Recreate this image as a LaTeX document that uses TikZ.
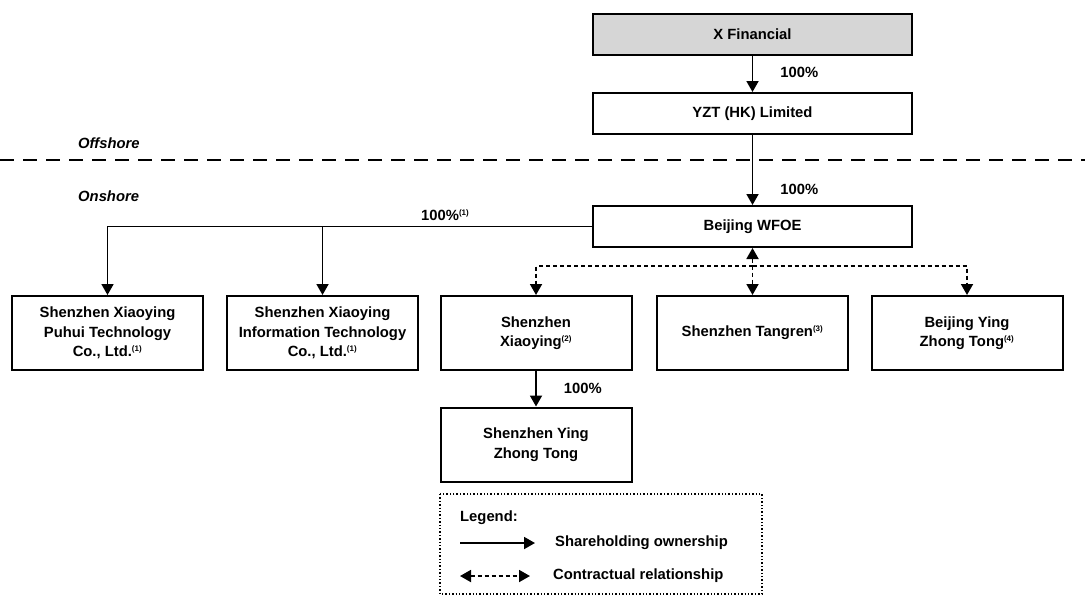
\documentclass[tikz,border=0pt]{standalone}
\usepackage{fontspec}
\setmainfont{Liberation Sans}
\usetikzlibrary{arrows.meta}

\tikzset{
  entity/.style={draw,line width=2pt,minimum width=319pt,minimum height=41pt,
    align=center,inner sep=0pt,font=\bfseries\fontsize{14.8}{19.5}\selectfont},
  subsid/.style={entity,minimum width=191pt,minimum height=74pt},
  own/.style={line width=1.8pt,-{Triangle[width=12pt,length=11pt]}},
  contract/.style={line width=1.8pt,dash pattern=on 4pt off 3pt,-{Triangle[width=12pt,length=11pt]}},
  pct/.style={anchor=west,inner sep=0pt,font=\bfseries\fontsize{14.8}{16}\selectfont},
  side/.style={anchor=west,inner sep=0pt,font=\bfseries\itshape\fontsize{14.8}{16}\selectfont},
}
\newcommand{\fn}[1]{\textsuperscript{\fontsize{8}{9}\selectfont(#1)}}

\begin{document}
\begin{tikzpicture}[x=1pt,y=1pt,yscale=-1]
\useasboundingbox (0,0) rectangle (1085,595);

% offshore
\node[entity,fill=black!16] (xfin) at (752.5,34) {X Financial};
\node[entity] (yzt) at (752.5,113.5) {YZT (HK) Limited};
\draw[own] (xfin) -- (yzt) node[pct,pos=0.45,xshift=27pt] (p_yzt) {100\%};

% divider
\draw[line width=2.2pt,dash pattern=on 14pt off 9pt] (0,160) -- (1085,160);
\node[side] (offshore) at (78,143) {Offshore};
\node[side] (onshore) at (78,196) {Onshore};

% onshore
\node[entity] (wfoe) at (752.5,226.5) {Beijing WFOE};
\draw[own] (yzt) -- (wfoe) node[pct,pos=0.78,xshift=27pt] (p_wfoe) {100\%};

\node[subsid] (puhui) at (107.5,333) {Shenzhen Xiaoying\\Puhui Technology\\Co., Ltd.\fn{1}};
\node[subsid] (infotech) at (322.5,333) {Shenzhen Xiaoying\\Information Technology\\Co., Ltd.\fn{1}};
\node[subsid] (xiaoying) at (536,333) {Shenzhen\\Xiaoying\fn{2}};
\node[subsid] (tangren) at (752.5,333) {Shenzhen Tangren\fn{3}};
\node[subsid] (bjyzt) at (967,333) {Beijing Ying\\Zhong Tong\fn{4}};
\node[subsid] (szyzt) at (536,444.5) {Shenzhen Ying\\Zhong Tong};

\draw[own] (wfoe.west) -| (puhui.north);
\draw[own] (wfoe.west) -| (infotech.north);
\node[pct] (p_vie) at (421,215) {100\%\fn{1}};

\draw[own] (xiaoying) -- (szyzt) node[pct,midway,xshift=27pt] (p_szyzt) {100\%};

% contractual arrangements
\coordinate (bus) at (752.5,266);
\draw[contract] (bus) -| (xiaoying.north);
\draw[contract] (bus) -| (bjyzt.north);
\draw[contract,{Triangle[width=12pt,length=11pt]}-{Triangle[width=12pt,length=11pt]}] (wfoe.south) -- (tangren.north);

% legend
\draw[line width=1.4pt,dotted] (440,494) rectangle (762,594);
\node[pct] (legend) at (460,518) {Legend:};
\coordinate (ownA) at (460,543);
\coordinate (ownB) at (535,543);
\draw[own] (ownA) -- (ownB);
\node[pct] (ownlbl) at (555,543) {Shareholding ownership};
\coordinate (conA) at (460,576);
\coordinate (conB) at (530,576);
\draw[contract,{Triangle[width=12pt,length=11pt]}-{Triangle[width=12pt,length=11pt]}] (conA) -- (conB);
\node[pct] (conlbl) at (553,576) {Contractual relationship};
\end{tikzpicture}
\end{document}
